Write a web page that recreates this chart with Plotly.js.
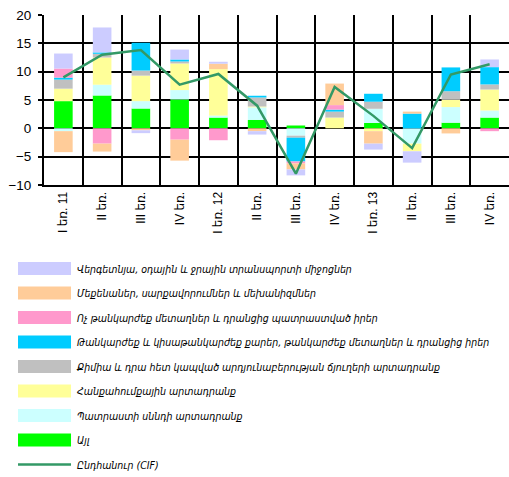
<!DOCTYPE html>
<html><head><meta charset="utf-8">
<script src="https://cdn.plot.ly/plotly-3.0.1.min.js"></script>
<style>html,body{margin:0;padding:0;background:#fff}#chart{width:509px;height:477px}</style>
</head><body><div id="chart"></div>
<script>
// ---- data ----
const categories = ["I եռ. 11","II եռ.","III եռ.","IV եռ.","I եռ. 12","II եռ.","III եռ.","IV եռ.","I եռ. 13","II եռ.","III եռ.","IV եռ."];
const other      = [4.8, 5.8, 3.5, 5.1, 1.9, 1.5, 0.5, 0, 0.95, 0, 1.0, 1.9];
const food       = [-0.5, 1.9, 1.3, 1.65, 0.35, 2.2, -1.3, 0, 2.5, -2.7, 2.75, 1.25];
const mineral    = [2.2, 4.8, 4.5, 4.7, 8.2, 0.15, 0, 1.9, -0.5, -1.35, 1.3, 3.7];
const chemical   = [1.6, 0.65, 0.9, 0.35, 0, 1.6, -0.35, 1.05, 1.25, 0, 1.5, 0.9];
const precious   = [0.35, 0.25, 4.9, 0.35, 0, 0.3, -4.2, 0.35, 1.4, 2.6, 4.2, 3.05];
const baseMetals = [1.6, -2.7, 0, -2.0, -2.1, 0, -0.35, 0.8, 0, 0, 0, -0.5];
const machinery  = [-3.7, -1.4, -0.35, -3.7, 0.95, -0.5, -1.05, 3.8, -2.2, 0.35, -0.9, 0];
const vehicles   = [2.65, 4.4, -0.5, 1.75, 0.35, -0.6, -1.05, 0, -1.05, -2.0, 0, 1.35];
const total      = [9.0, 13.0, 13.8, 7.7, 9.6, 4.0, -8.0, 7.3, 2.2, -3.5, 9.5, 11.3];

const seriesNames = [
  "Այլ",
  "Պատրաստի սննդի արտադրանք",
  "Հանքահումքային արտադրանք",
  "Քիմիա և դրա հետ կապված արդյունաբերության ճյուղերի արտադրանք",
  "Թանկարժեք և կիսաթանկարժեք քարեր, թանկարժեք մետաղներ և դրանցից իրեր",
  "Ոչ թանկարժեք մետաղներ և դրանցից պատրաստված իրեր",
  "Մեքենաներ, սարքավորումներ և մեխանիզմներ",
  "Վերգետնյա, օդային և ջրային տրանսպորտի միջոցներ"
];
const totalName = "Ընդհանուր (CIF)";

// ---- styles ----
const seriesValues = [other, food, mineral, chemical, precious, baseMetals, machinery, vehicles];
const seriesColors = ["#00FF00","#CCFFFF","#FFFF99","#C0C0C0","#00CCFF","#FF99CC","#FFCC99","#CCCCFF"];
const xIdx = categories.map((_, i) => i);

const traces = seriesValues.map((vals, i) => ({
  type: 'bar', x: xIdx, y: vals, name: seriesNames[i],
  marker: {color: seriesColors[i], line: {width: 0}},
  legendgroup: 'g' + i, legendrank: 8 - i, hoverinfo: 'skip'
}));
traces.push({
  type: 'scatter', mode: 'lines', x: xIdx, y: total, name: totalName,
  line: {color: '#339966', width: 2.5}, legendgroup: 'gt', legendrank: 9, hoverinfo: 'skip'
});

const layout = {
  width: 509, height: 477,
  margin: {l: 44, r: 0, t: 15, b: 292, autoexpand: false},
  paper_bgcolor: '#fff', plot_bgcolor: '#fff',
  barmode: 'relative', bargap: 0.52,
  font: {family: 'Liberation Sans, Arial, DejaVu Sans', color: '#000'},
  xaxis: {
    range: [-0.5, 11.5], tickmode: 'array', tickvals: xIdx, ticktext: categories,
    tickangle: -90, tickfont: {size: 12}, showgrid: false, zeroline: false,
    showline: true, linecolor: '#000', linewidth: 2, ticks: '',
    minor: {tickmode: 'linear', tick0: 0.5, dtick: 1, showgrid: true, gridcolor: '#000', gridwidth: 2, ticks: ''}
  },
  yaxis: {
    range: [-10, 20], tickmode: 'linear', tick0: 0, dtick: 5,
    showgrid: true, gridcolor: '#000', gridwidth: 2,
    zeroline: true, zerolinecolor: '#000', zerolinewidth: 2,
    showline: true, linecolor: '#000', linewidth: 2,
    ticks: 'outside', ticklen: 4, tickwidth: 2, tickcolor: '#000',
    tickfont: {size: 13.5}, ticklabelstandoff: 4
  },
  showlegend: true,
  legend: {
    xref: 'container', yref: 'container', x: 0.0236, y: 0.4675,
    xanchor: 'left', yanchor: 'top', traceorder: 'grouped', tracegroupgap: 5.5,
    itemwidth: 55, bgcolor: 'rgba(0,0,0,0)',
    font: {family: 'DejaVu Sans Condensed, DejaVu Sans', size: 10.5, style: 'italic', color: '#000'}
  }
};

Plotly.newPlot('chart', traces, layout, {staticPlot: true, displayModeBar: false}).then(gd => {
  // widen legend swatches to match the reference
  let cx = null;
  gd.querySelectorAll('.legend .legendpoints path').forEach(p => {
    const d = p.getAttribute('d') || '';
    if (/^M6,6H-6V-6H6Z/.test(d)) {
      p.setAttribute('d', 'M26.5,6.5H-26.5V-6.5H26.5Z');
      const tr = p.getAttribute('transform') || '';
      const m = tr.match(/translate\(([-\d.]+)/);
      if (m) cx = parseFloat(m[1]);
    }
  });
  if (cx === null) cx = 55 / 2 + 5;
  gd.querySelectorAll('.legend .legendlines path').forEach(p => {
    p.setAttribute('d', 'M' + (cx - 26.5) + ',0h53');
  });
});
</script>
</body></html>
